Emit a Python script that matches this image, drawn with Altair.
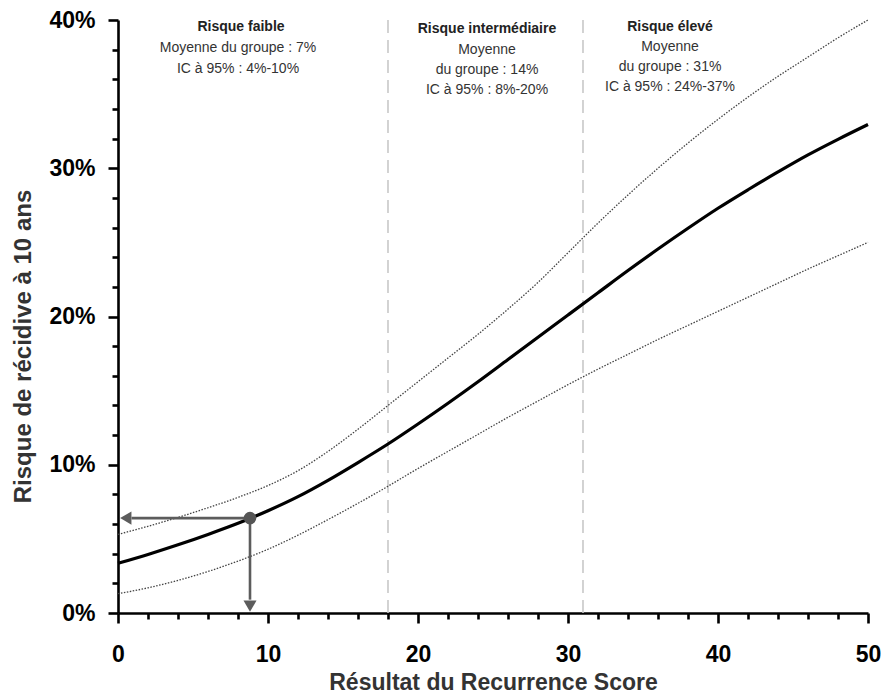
import altair as alt
import pandas as pd

# ---- data ----
score = [0, 2, 4, 6, 8, 10, 12, 14, 16, 18, 20, 22, 24, 26, 28, 30, 32, 34, 36, 38, 40, 42, 44, 46, 48, 50]
risk = [3.35, 3.95, 4.6, 5.3, 6.05, 6.9, 7.85, 8.95, 10.15, 11.4, 12.75, 14.15, 15.6, 17.1, 18.6, 20.1,
        21.6, 23.1, 24.55, 25.95, 27.3, 28.55, 29.75, 30.9, 31.95, 32.95]
upper = [5.3, 5.85, 6.45, 7.1, 7.8, 8.6, 9.6, 10.9, 12.4, 14.0, 15.6, 17.2, 18.8, 20.5, 22.3, 24.3,
         26.3, 28.2, 30.0, 31.7, 33.3, 34.8, 36.2, 37.5, 38.8, 40.0]
lower = [1.3, 1.7, 2.2, 2.8, 3.5, 4.3, 5.25, 6.3, 7.4, 8.55, 9.75, 10.9, 12.05, 13.2, 14.3, 15.4,
         16.45, 17.45, 18.45, 19.4, 20.35, 21.3, 22.25, 23.2, 24.1, 25.0]
cutoffs = [18, 31]
point_score = 8.8
point_risk = 6.4

ann_x = [8.2, 8.0, 8.0, 24.6, 24.6, 24.6, 24.6, 36.8, 36.8, 36.8, 36.8]
ann_y = [39.5, 38.1, 36.7, 39.4, 38.0, 36.6, 35.3, 39.5, 38.2, 36.8, 35.45]
ann_text = ["Risque faible", "Moyenne du groupe : 7%", "IC à 95% : 4%-10%",
            "Risque intermédiaire", "Moyenne", "du groupe : 14%", "IC à 95% : 8%-20%",
            "Risque élevé", "Moyenne", "du groupe : 31%", "IC à 95% : 24%-37%"]
ann_bold = [True, False, False, True, False, False, False, True, False, False, False]

FONT = "Liberation Sans"

curve = pd.DataFrame({"score": score, "risk": risk, "upper": upper, "lower": lower})
ann = pd.DataFrame({"x": ann_x, "y": ann_y, "text": ann_text, "bold": ann_bold})
cuts = pd.DataFrame({"x": cutoffs, "y0": [0] * len(cutoffs), "y1": [40] * len(cutoffs)})
pt = pd.DataFrame({"x": [point_score], "y": [point_risk]})

xscale = alt.Scale(domain=[0, 50], nice=False, zero=False)
yscale = alt.Scale(domain=[0, 40], nice=False, zero=False)

x_ticks = list(range(0, 51, 2))
y_ticks = list(range(0, 41, 2))

x_axis = alt.Axis(
    title="Résultat du Recurrence Score",
    values=x_ticks,
    tickCount=100,
    labelExpr="datum.value % 10 === 0 ? '' + datum.value : ''",
    tickSize={"condition": {"test": "datum.value % 10 === 0", "value": 10}, "value": 6},
    grid=False,
    labelPadding=20,
    titleBaseline="alphabetic",
    titleY=76,
)
y_axis = alt.Axis(
    title="Risque de récidive à 10 ans",
    values=y_ticks,
    tickCount=100,
    labelExpr="datum.value % 10 === 0 ? datum.value + '%' : ''",
    tickSize={"condition": {"test": "datum.value % 10 === 0", "value": 10}, "value": 6},
    grid=False,
    labelPadding=13,
    titleBaseline="alphabetic",
    titleFontSize=24,
    titleX=-88,
    titleY=326,
)

base = alt.Chart(curve)

cut_layer = alt.Chart(cuts).mark_rule(color="#c8c8c8", strokeWidth=1.6, strokeDash=[13, 7]).encode(
    x=alt.X("x:Q", scale=xscale, axis=x_axis),
    y=alt.Y("y0:Q", scale=yscale, axis=y_axis),
    y2="y1:Q",
)

upper_line = base.mark_line(color="#444", strokeWidth=1.3, strokeDash=[1.5, 1.5], interpolate="monotone").encode(
    x=alt.X("score:Q", scale=xscale), y=alt.Y("upper:Q", scale=yscale)
)
lower_line = base.mark_line(color="#444", strokeWidth=1.3, strokeDash=[1.5, 1.5], interpolate="monotone").encode(
    x=alt.X("score:Q", scale=xscale), y=alt.Y("lower:Q", scale=yscale)
)
main_line = base.mark_line(color="black", strokeWidth=3.2, interpolate="monotone").encode(
    x=alt.X("score:Q", scale=xscale), y=alt.Y("risk:Q", scale=yscale)
)

ARROW = "#5c5c5c"
h_arrow = alt.Chart(pt).transform_calculate(xa="0.9").mark_rule(color=ARROW, strokeWidth=2.6).encode(
    x=alt.X("xa:Q", scale=xscale), x2="x:Q", y=alt.Y("y:Q", scale=yscale)
)
v_arrow = alt.Chart(pt).transform_calculate(ya="0.9").mark_rule(color=ARROW, strokeWidth=2.6).encode(
    x=alt.X("x:Q", scale=xscale), y=alt.Y("ya:Q", scale=yscale), y2="y:Q"
)
h_head = alt.Chart(pt).transform_calculate(xh="0.52").mark_point(
    shape="triangle-left", filled=True, color=ARROW, size=170, opacity=1
).encode(x=alt.X("xh:Q", scale=xscale), y=alt.Y("y:Q", scale=yscale))
v_head = alt.Chart(pt).transform_calculate(yh="0.46").mark_point(
    shape="triangle-down", filled=True, color=ARROW, size=170, opacity=1
).encode(x=alt.X("x:Q", scale=xscale), y=alt.Y("yh:Q", scale=yscale))
dot = alt.Chart(pt).mark_circle(color="#555", size=160, opacity=1).encode(
    x=alt.X("x:Q", scale=xscale), y=alt.Y("y:Q", scale=yscale)
)

text_bold = alt.Chart(ann).transform_filter("datum.bold").mark_text(
    font=FONT, fontSize=14, fontWeight="bold", color="#222", baseline="middle", align="center"
).encode(x=alt.X("x:Q", scale=xscale), y=alt.Y("y:Q", scale=yscale), text="text:N")
text_norm = alt.Chart(ann).transform_filter("!datum.bold").mark_text(
    font=FONT, fontSize=14, color="#333", baseline="middle", align="center"
).encode(x=alt.X("x:Q", scale=xscale), y=alt.Y("y:Q", scale=yscale), text="text:N")

chart = alt.layer(
    cut_layer, upper_line, lower_line, main_line, h_arrow, v_arrow, h_head, v_head, dot,
    text_bold, text_norm,
).properties(
    width=750,
    height=593,
    autosize=alt.AutoSizeParams(type="none"),
    padding={"left": 118, "top": 20, "right": 15, "bottom": 84},
).configure_view(stroke=None).configure_axis(
    domainColor="black",
    domainWidth=2.6,
    tickColor="black",
    tickWidth=2.6,
    labelFont=FONT,
    labelFontSize=23,
    labelFontWeight="bold",
    labelColor="black",
    titleFont=FONT,
    titleFontSize=23,
    titleFontWeight="bold",
    titleColor="#333",
    labelFlush=False,
    labelOverlap=False,
)

chart.save("out.html", embed_options={"renderer": "svg", "actions": False})
